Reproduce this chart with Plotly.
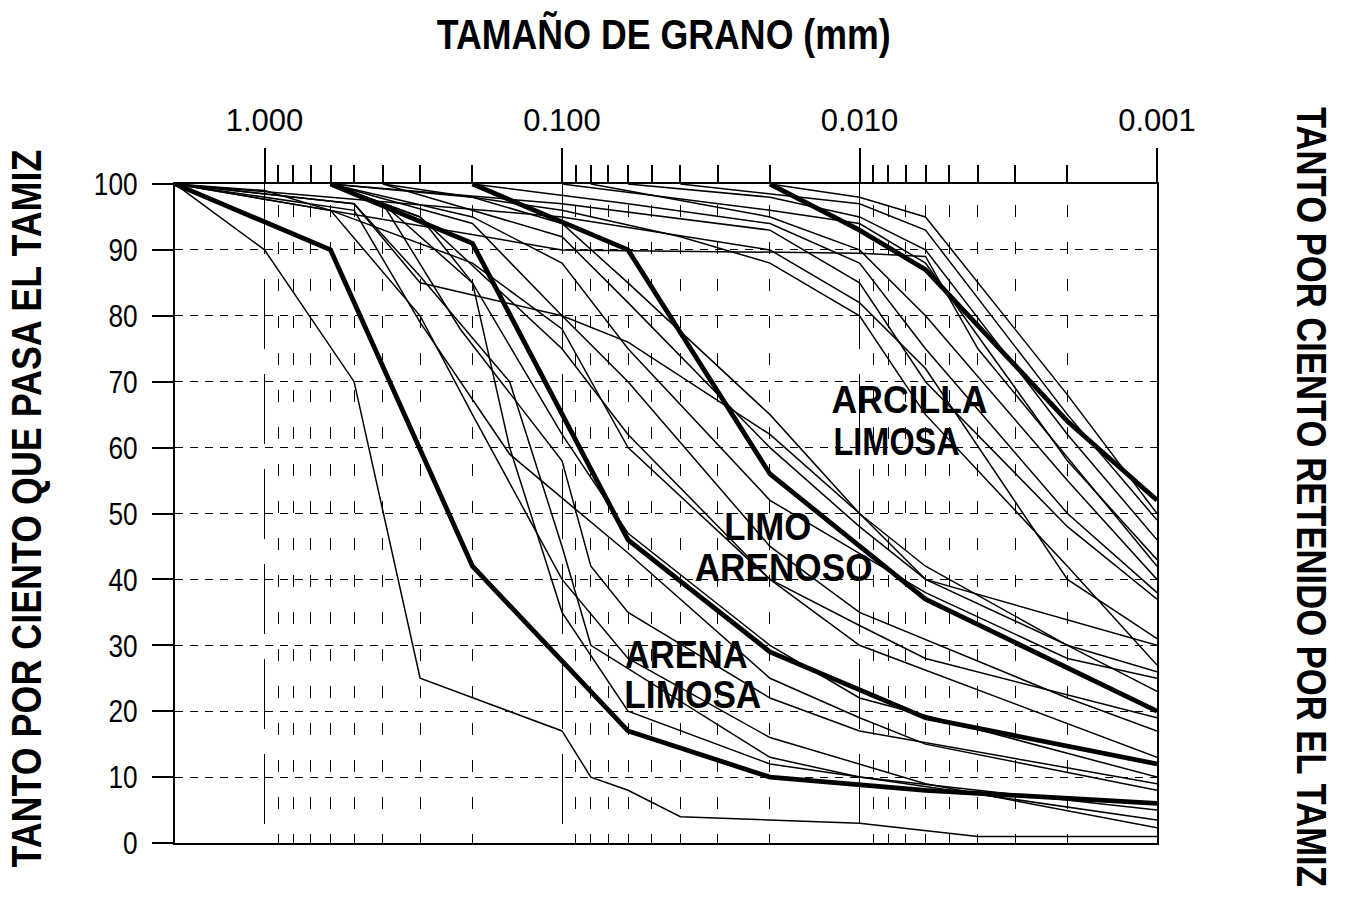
import math
import json
import plotly.graph_objects as go

# ---------------- data (grain size in mm, percent passing) ----------------
thick_sizes = [
    [2, 0.6, 0.2, 0.06, 0.02, 0.006, 0.001],
    [0.6, 0.2, 0.06, 0.02, 0.006, 0.001],
    [0.2, 0.06, 0.02, 0.006, 0.001],
    [0.02, 0.01, 0.006, 0.002, 0.001],
]
thick_pct = [
    [100, 90, 42, 17, 10, 8, 6],
    [100, 91, 46, 29, 19, 12],
    [100, 90, 56, 37, 20],
    [100, 93, 87, 64, 52],
]

sand_sizes = [
    [2, 1, 0.5, 0.3, 0.1, 0.08, 0.06, 0.04, 0.01, 0.004, 0.001],
    [0.6, 0.4, 0.2, 0.15, 0.1, 0.06, 0.02, 0.01, 0.001],
    [2, 0.5, 0.3, 0.15, 0.1, 0.08, 0.02, 0.01, 0.001],
    [2, 1, 0.6, 0.3, 0.2, 0.1, 0.06, 0.02, 0.006, 0.001],
    [2, 0.5, 0.3, 0.15, 0.06, 0.02, 0.01, 0.006, 0.001],
    [0.6, 0.4, 0.22, 0.1, 0.08, 0.06, 0.02, 0.01, 0.001],
    [0.6, 0.3, 0.2, 0.1, 0.06, 0.02, 0.01, 0.001],
]
sand_pct = [
    [100, 90, 70, 25, 17, 10, 8, 4, 3, 1, 1],
    [100, 97, 85, 60, 35, 20, 12, 10, 5],
    [100, 97, 86, 70, 45, 30, 13, 10, 3.5],
    [100, 99, 96, 80, 65, 40, 28, 16, 9, 2.3],
    [100, 96, 79, 59, 44, 25, 19, 15, 8],
    [100, 97, 78, 58, 42, 35, 22, 17, 9],
    [100, 95, 85, 62, 47, 30, 22, 10],
]

silt_sizes = [
    [2, 0.6, 0.2, 0.1, 0.06, 0.02, 0.01, 0.001],
    [0.6, 0.2, 0.1, 0.06, 0.02, 0.01, 0.002, 0.001],
    [0.6, 0.3, 0.1, 0.06, 0.02, 0.01, 0.006, 0.001],
    [2, 0.5, 0.3, 0.1, 0.06, 0.02, 0.01, 0.006, 0.001],
    [0.6, 0.2, 0.1, 0.06, 0.02, 0.006, 0.002, 0.001],
    [0.4, 0.1, 0.06, 0.02, 0.01, 0.006, 0.002, 0.001],
    [0.6, 0.2, 0.1, 0.06, 0.02, 0.01, 0.006, 0.002, 0.001],
]
silt_pct = [
    [100, 96, 88, 78, 60, 40, 30, 13],
    [100, 94, 80, 70, 45, 35, 22, 17],
    [100, 95, 75, 62, 40, 33, 28, 19],
    [100, 97, 85, 80, 76, 62, 50, 40, 30],
    [100, 95, 88, 75, 52, 38, 28, 25],
    [100, 92, 82, 60, 48, 40, 30, 26],
    [100, 98, 94, 85, 65, 50, 42, 30, 23],
]

clay_sizes = [
    [2, 0.1, 0.02, 0.01, 0.006, 0.002, 0.001],
    [0.4, 0.1, 0.04, 0.02, 0.01, 0.006, 0.002, 0.001],
    [0.6, 0.1, 0.02, 0.01, 0.006, 0.002, 0.001],
    [0.2, 0.06, 0.02, 0.01, 0.006, 0.002, 0.001],
    [0.08, 0.02, 0.01, 0.006, 0.002, 0.001],
    [2, 0.1, 0.01, 0.006, 0.004, 0.001],
    [0.1, 0.02, 0.01, 0.006, 0.002, 0.001],
    [0.06, 0.02, 0.01, 0.006, 0.002, 0.001],
    [0.04, 0.01, 0.006, 0.002, 0.001],
    [0.02, 0.01, 0.006, 0.004, 0.002, 0.001],
]
clay_pct = [
    [100, 95, 90, 82, 72, 40, 31],
    [100, 96, 92, 88, 80, 65, 42, 27],
    [100, 97, 93, 85, 70, 48, 37],
    [100, 97, 94, 88, 75, 50, 38],
    [100, 95, 90, 80, 55, 40],
    [100, 90, 89.5, 89, 75, 42],
    [100, 96, 94, 88, 58, 43],
    [100, 98, 95, 90, 62, 46],
    [100, 97, 93, 65, 49],
    [100, 98, 95, 85, 68, 50],
]

x_major = [1, 0.1, 0.01, 0.001]
x_major_text = ["1.000", "0.100", "0.010", "0.001"]
x_minor = [m * 10.0 ** (-d) for d in range(0, 3) for m in (0.9, 0.8, 0.7, 0.6, 0.5, 0.4, 0.3, 0.2)]
y_ticks = list(range(0, 101, 10))

SANS = "Liberation Sans, Arial, sans-serif"

fig = go.Figure()

thin_groups = [(sand_sizes, sand_pct), (silt_sizes, silt_pct), (clay_sizes, clay_pct)]
for sizes_list, pct_list in thin_groups:
    for xs, ys in zip(sizes_list, pct_list):
        fig.add_trace(go.Scatter(x=xs, y=ys, mode="lines",
                                 line=dict(color="black", width=1.5),
                                 hoverinfo="skip", showlegend=False))

for xs, ys in zip(thick_sizes, thick_pct):
    fig.add_trace(go.Scatter(x=xs, y=ys, mode="lines",
                             line=dict(color="black", width=4.8),
                             hoverinfo="skip", showlegend=False))

fig.update_layout(
    width=1345, height=923,
    margin=dict(l=175, r=188, t=184, b=80),
    paper_bgcolor="white", plot_bgcolor="white",
    showlegend=False,
    xaxis=dict(
        type="log", range=[math.log10(2), -3], side="top",
        tickmode="array", tickvals=x_major, ticktext=x_major_text,
        ticks="outside", ticklen=34, tickwidth=1.5, tickcolor="black",
        tickfont=dict(family=SANS, size=31, color="black"),
        ticklabelstandoff=5,
        showline=True, linecolor="black", linewidth=2, mirror=True,
        showgrid=True, gridcolor="black", gridwidth=1.3, griddash="70px,25px",
        zeroline=False,
        minor=dict(tickmode="array", tickvals=x_minor, ticks="outside", ticklen=17,
                   tickwidth=1.5, tickcolor="black", showgrid=True,
                   gridcolor="black", gridwidth=1.3, griddash="0px,21px,12px,4px"),
    ),
    yaxis=dict(
        range=[0, 100], tickmode="array", tickvals=y_ticks,
        ticks="outside", ticklen=21, tickwidth=1.5, tickcolor="black",
        tickfont=dict(family=SANS, size=32, color="black"),
        ticklabelstandoff=8,
        showline=True, linecolor="black", linewidth=2, mirror=True,
        showgrid=True, gridcolor="black", gridwidth=1.3, griddash="8px,7px",
        zeroline=False,
    ),
    yaxis2=dict(
        overlaying="y", side="right", anchor="x",
        range=[100, 0], tickmode="array", tickvals=y_ticks,
        ticks="outside", ticklen=18, tickwidth=1.5, tickcolor="black",
        tickfont=dict(family=SANS, size=30, color="black"),
        ticklabelstandoff=12,
        showline=False, showgrid=False, zeroline=False,
    ),
)

def px_to_paper(px, py):
    return (px - 175) / 982.0, (843 - py) / 659.0

title_font = dict(family=SANS, size=42, color="black", weight="bold")
label_font = dict(family=SANS, size=39, color="black", weight="bold")

# text, centre x, centre y (px), angle, target width (px)
texts = [
    ("TAMAÑO DE GRANO (mm)", 664, 34, 0, 454, title_font),
    ("TANTO POR CIENTO QUE PASA EL TAMIZ", 26, 509, -90, 718, title_font),
    ("TANTO POR CIENTO RETENIDO POR EL TAMIZ", 1312, 497, 90, 780, title_font),
    ("ARCILLA", 909, 399, 0, 156, label_font),
    ("LIMOSA ", 900, 441, 0, 134, label_font),
    ("LIMO", 767, 526, 0, 87, label_font),
    ("ARENOSO", 783, 567, 0, 178, label_font),
    ("ARENA", 686, 654, 0, 123, label_font),
    ("LIMOSA", 693, 694, 0, 137, label_font),
]
annos = []
widths = {}
for text, px, py, ang, w, f in texts:
    x, y = px_to_paper(px, py)
    annos.append(dict(text=text, x=x, y=y, xref="paper", yref="paper", showarrow=False,
                      textangle=ang, xanchor="center", yanchor="middle", font=f))
    widths[text] = w
fig.update_layout(annotations=annos)

post = """
document.body.style.margin = '0px';
var gd = document.getElementById('{plot_id}');
var W = %s;
function condense() {
  gd.querySelectorAll('.annotation-text').forEach(function (el) {
    var key = el.textContent;
    if (!(key in W) || el.getAttribute('data-cond')) return;
    var bb = el.getBBox();
    if (!bb.width) return;
    var s = W[key] / bb.width;
    var cx = bb.x + bb.width / 2;
    var tr = el.getAttribute('transform') || '';
    el.setAttribute('transform', tr + ' translate(' + cx + ',0) scale(' + s + ',1) translate(' + (-cx) + ',0)');
    el.setAttribute('data-cond', '1');
  });
  gd.querySelectorAll('.ytick text').forEach(function (el) {
    if (el.getAttribute('data-cond')) return;
    var bb = el.getBBox();
    var cx = bb.x + bb.width;
    var tr = el.getAttribute('transform') || '';
    el.setAttribute('transform', tr + ' translate(' + cx + ',0) scale(0.82,1) translate(' + (-cx) + ',0)');
    el.setAttribute('data-cond', '1');
  });
}
condense();
gd.on('plotly_afterplot', condense);
""" % json.dumps(widths)

fig.write_html("out.html", post_script=post, config={"displayModeBar": False})
